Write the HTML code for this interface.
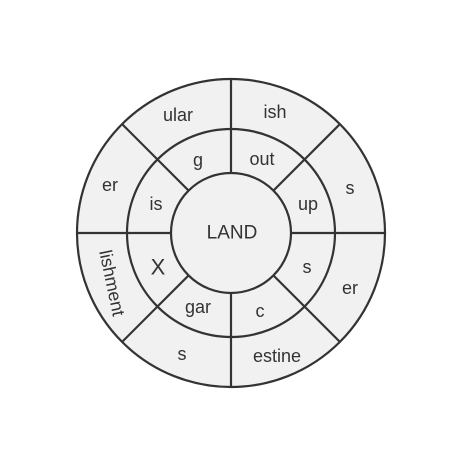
<!DOCTYPE html>
<html><head><meta charset="utf-8"><style>
html,body{margin:0;padding:0;background:#fff;width:460px;height:460px;overflow:hidden}
text{font-family:"Liberation Sans",sans-serif;font-size:18px;fill:#333;text-anchor:middle;dominant-baseline:central}
</style></head><body>
<svg width="460" height="460">
<g stroke="#333" stroke-width="2.2" fill="#f1f1f1">
<circle cx="231" cy="233" r="154"/>
<circle cx="231" cy="233" r="104"/>
<circle cx="231" cy="233" r="60"/>
<line x1="231" y1="79" x2="231" y2="173"/>
<line x1="231" y1="293" x2="231" y2="387"/>
<line x1="77" y1="233" x2="171" y2="233"/>
<line x1="291" y1="233" x2="385" y2="233"/>
<line x1="122" y1="124" x2="189" y2="191"/>
<line x1="340" y1="124" x2="273" y2="191"/>
<line x1="122" y1="342" x2="189" y2="275"/>
<line x1="340" y1="342" x2="273" y2="275"/>
</g>
<text x="232" y="233" style="font-size:19px">LAND</text>
<text x="178" y="115">ular</text>
<text x="275" y="112">ish</text>
<text x="110" y="185">er</text>
<text x="350" y="188">s</text>
<text x="350" y="288">er</text>
<text x="182" y="354">s</text>
<text x="277" y="356">estine</text>
<text x="112" y="283" transform="rotate(78 112 283)">lishment</text>
<text x="156" y="204">is</text>
<text x="198" y="160">g</text>
<text x="262" y="159">out</text>
<text x="308" y="204">up</text>
<text x="158" y="267" style="font-size:22px">X</text>
<text x="307" y="267">s</text>
<text x="198" y="307">gar</text>
<text x="260" y="311">c</text>
</svg>
</body></html>
